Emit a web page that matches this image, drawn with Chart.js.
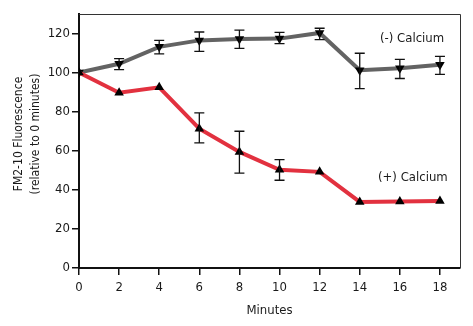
<!DOCTYPE html>
<html><head><meta charset="utf-8">
<script src="https://cdn.jsdelivr.net/npm/chart.js@4.4.0/dist/chart.umd.min.js"></script>
<style>html,body{margin:0;padding:0;background:#fff}canvas{display:block}</style>
</head><body>
<canvas id="c" width="473" height="326"></canvas>
<script>
const minutes = [0, 2, 4, 6, 8, 10, 12, 14, 16, 18];
const minusCalcium = [100, 104.5, 113.2, 116.5, 117.2, 117.4, 120.3, 101.2, 102.2, 104];
const minusErrHigh = [100, 107.2, 116.5, 120.8, 121.7, 120.6, 122.7, 109.9, 106.8, 108.3];
const minusErrLow  = [100, 101.5, 109.6, 110.9, 112.4, 114.8, 116.9, 91.8, 97, 99.1];
const plusCalcium = [100, 89.7, 92.5, 71.3, 59.4, 50.3, 49.2, 33.8, 34, 34.3];
const plusErrHigh = [100, 89.7, 92.5, 79.4, 70, 55.5, 49.2, 33.8, 34, 34.3];
const plusErrLow  = [100, 89.7, 92.5, 64, 48.6, 44.9, 49.2, 33.8, 34, 34.3];
const xTicks = [0, 2, 4, 6, 8, 10, 12, 14, 16, 18];
const yTicks = [0, 20, 40, 60, 80, 100, 120];
const yTitle = ['FM2-10 Fluorescence', '(relative to 0 minutes)'];
const xTitle = 'Minutes';
const labelMinus = '(-) Calcium';
const labelPlus = '(+) Calcium';

const FONT = "'Liberation Sans Narrow', 'DejaVu Sans Condensed', sans-serif";

function pts(ys){ return minutes.map((m,i)=>({x:m,y:ys[i]})); }

const errorBars = {
  id:'errorBars',
  afterDatasetsDraw(chart){
    const {ctx, scales:{x,y}} = chart;
    ctx.save();
    ctx.strokeStyle = '#111';
    ctx.lineWidth = 1.3;
    const sets = [[minusErrLow, minusErrHigh],[plusErrLow, plusErrHigh]];
    sets.forEach(([lo,hi])=>{
      minutes.forEach((m,i)=>{
        if (hi[i]-lo[i] < 1) return;
        const px = x.getPixelForValue(m);
        const p1 = y.getPixelForValue(hi[i]);
        const p2 = y.getPixelForValue(lo[i]);
        ctx.beginPath();
        ctx.moveTo(px,p1); ctx.lineTo(px,p2);
        ctx.moveTo(px-5,p1); ctx.lineTo(px+5,p1);
        ctx.moveTo(px-5,p2); ctx.lineTo(px+5,p2);
        ctx.stroke();
      });
    });
    ctx.restore();
  }
};

const frameAndText = {
  id:'frameAndText',
  beforeDatasetsDraw(chart){
    const {ctx, chartArea:a} = chart;
    ctx.save();
    ctx.strokeStyle = '#333';
    ctx.lineWidth = 1;
    ctx.beginPath();
    ctx.moveTo(a.left, a.top+0.5); ctx.lineTo(a.right+0.5, a.top+0.5); ctx.lineTo(a.right+0.5, a.bottom);
    ctx.stroke();
    ctx.restore();
  },
  afterDraw(chart){
    const {ctx} = chart;
    ctx.save();
    ctx.fillStyle = '#1a1a1a';
    ctx.font = "13px " + FONT;
    ctx.textBaseline = 'middle';
    ctx.textAlign = 'left';
    ctx.fillText(labelMinus, 380, 39);
    ctx.fillText(labelPlus, 378, 178);
    // y title
    ctx.font = "12px " + FONT;
    ctx.translate(0, 134);
    ctx.rotate(-Math.PI/2);
    ctx.textAlign = 'center';
    ctx.fillText(yTitle[0], 0, 19);
    ctx.fillText(yTitle[1], 0, 36);
    ctx.restore();
  }
};

new Chart(document.getElementById('c'), {
  type:'line',
  data:{
    datasets:[
      {
        label:labelPlus,
        data:pts(plusCalcium),
        borderColor:'#e2313f',
        borderWidth:4,
        pointStyle:'triangle',
        pointRadius:5.5,
        pointBackgroundColor:'#000',
        pointBorderColor:'#000',
        pointBorderWidth:0,
        tension:0
      },
      {
        label:labelMinus,
        data:pts(minusCalcium),
        borderColor:'#636363',
        borderWidth:4,
        pointStyle:'triangle',
        rotation:180,
        pointRadius:5.5,
        pointBackgroundColor:'#000',
        pointBorderColor:'#000',
        pointBorderWidth:0,
        tension:0
      }
    ]
  },
  options:{
    responsive:false,
    animation:false,
    devicePixelRatio:1,
    layout:{padding:{top:14, right:13, left:0, bottom:0}},
    plugins:{legend:{display:false}, tooltip:{enabled:false}},
    scales:{
      x:{
        type:'linear', min:0, max:19,
        afterBuildTicks(s){ s.ticks = xTicks.map(v=>({value:v})); },
        afterFit(s){ s.height = 58; },
        grid:{drawOnChartArea:false, drawTicks:true, tickLength:7, color:'#111', lineWidth:1.5},
        border:{display:true, color:'#111', width:2},
        ticks:{color:'#1a1a1a', padding:5, maxRotation:0, font:{family:FONT, size:13}},
        title:{display:true, text:xTitle, color:'#1a1a1a', font:{family:FONT, size:13, lineHeight:1.3}, padding:{top:0,bottom:7}}
      },
      y:{
        type:'linear', min:0, max:130,
        afterBuildTicks(s){ s.ticks = yTicks.map(v=>({value:v})); },
        afterFit(s){ s.width = 79; },
        grid:{drawOnChartArea:false, drawTicks:true, tickLength:7, color:'#111', lineWidth:1.5},
        border:{display:true, color:'#111', width:2},
        ticks:{color:'#1a1a1a', padding:2, font:{family:FONT, size:13}}
      }
    }
  },
  plugins:[errorBars, frameAndText]
});
</script>
</body></html>
